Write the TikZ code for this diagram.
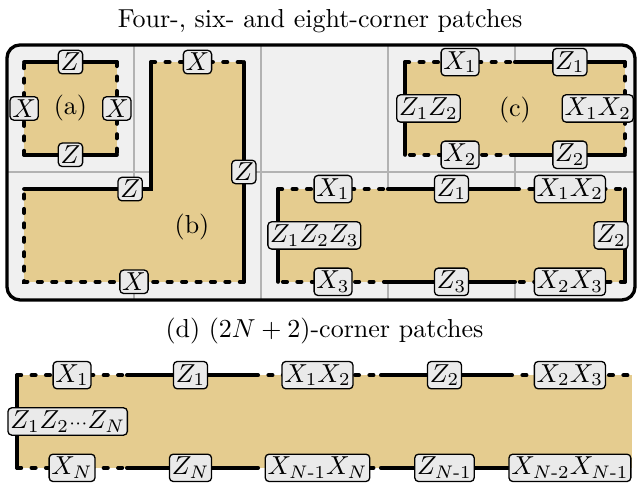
\documentclass[tikz,border=0pt]{standalone}
\usepackage{amsmath}
\usetikzlibrary{calc}

\definecolor{patchtan}{RGB}{229,204,143}
\definecolor{framegray}{RGB}{240,240,240}
\definecolor{gridgray}{RGB}{178,178,178}
\definecolor{labgray}{RGB}{234,234,234}

\tikzset{
  lab/.style = {draw, fill = labgray, rounded corners = 1.5pt, inner xsep = 0.9pt, inner ysep = 1.1pt, line width = 0.5pt},
  zedge/.style = {line width = 1.55pt, line cap = round},
  xedge/.style = {zedge, dash pattern = on 1.55pt off 4pt},
}

\begin{document}
\begin{tikzpicture}[x = 1.717cm, y = 1.717cm]
    \useasboundingbox (-0.055, 0.354) rectangle (4.961, -3.465);
    \def\ins{0.135}

      %frame with grid
      \fill[framegray, rounded corners = 5pt] (0, 0) rectangle (4.945, -2.008);
      \foreach \x in {1, 2, 3, 4}
        \draw[gridgray, line width = 0.58pt] (\x, 0) -- (\x, -2.008);
      \draw[gridgray, line width = 0.58pt] (0, -1) -- (4.945, -1);
      \draw[line width = 1.27pt, rounded corners = 5pt] (0, 0) rectangle (4.945, -2.008);

      %corners of the patches
      \path (\ins, -\ins) coordinate(a1) (1-\ins, -\ins) coordinate(a2)
            (1-\ins, -1+\ins) coordinate(a3) (\ins, -1+\ins) coordinate(a4);
      \path (\ins, -1-\ins) coordinate(b1) (1+\ins, -1-\ins) coordinate(b2)
            (1+\ins, -\ins) coordinate(b3) (2-\ins, -\ins) coordinate(b4)
            (2-\ins, -2+\ins) coordinate(b5) (\ins, -2+\ins) coordinate(b6);
      \path (3+\ins, -\ins) coordinate(c1) (4, -\ins) coordinate(c2)
            (5-\ins, -\ins) coordinate(c3) (5-\ins, -1+\ins) coordinate(c4)
            (4, -1+\ins) coordinate(c5) (3+\ins, -1+\ins) coordinate(c6);
      \path (2+\ins, -1-\ins) coordinate(e1) (3, -1-\ins) coordinate(e2)
            (4, -1-\ins) coordinate(e3) (5-\ins, -1-\ins) coordinate(e4)
            (5-\ins, -2+\ins) coordinate(e5) (4, -2+\ins) coordinate(e6)
            (3, -2+\ins) coordinate(e7) (2+\ins, -2+\ins) coordinate(e8);
      \foreach \x [count = \i] in {0.08, 0.945, 1.945, 2.945, 3.945, 4.92}
        \path (\x, -2.6) coordinate(dt\i) (\x, -3.33) coordinate(db\i);

      %patch fills
      \fill[patchtan] (a1) -- (a2) -- (a3) -- (a4) -- cycle;
      \fill[patchtan] (b1) -- (b2) -- (b3) -- (b4) -- (b5) -- (b6) -- cycle;
      \fill[patchtan] (c1) -- (c3) -- (c4) -- (c6) -- cycle;
      \fill[patchtan] (e1) -- (e4) -- (e5) -- (e8) -- cycle;
      \fill[patchtan] (dt1) rectangle (db6);

      %boundaries
      \draw[zedge] (a1) -- (a2);
      \draw[xedge] (a2) -- (a3);
      \draw[zedge] (a3) -- (a4);
      \draw[xedge] (a4) -- (a1);

      \draw[zedge] (b1) -- (b2) -- (b3);
      \draw[xedge] (b3) -- (b4);
      \draw[zedge] (b4) -- (b5);
      \draw[xedge] (b5) -- (b6) -- (b1);

      \draw[xedge] (c1) -- (c2);
      \draw[zedge] (c2) -- (c3);
      \draw[xedge] (c3) -- (c4);
      \draw[zedge] (c4) -- (c5);
      \draw[xedge] (c5) -- (c6);
      \draw[zedge] (c6) -- (c1);

      \draw[xedge] (e1) -- (e2);
      \draw[zedge] (e2) -- (e3);
      \draw[xedge] (e3) -- (e4);
      \draw[zedge] (e4) -- (e5);
      \draw[xedge] (e5) -- (e6);
      \draw[zedge] (e6) -- (e7);
      \draw[xedge] (e7) -- (e8);
      \draw[zedge] (e8) -- (e1);

      \draw[zedge] (dt1) -- (db1);
      \foreach \i/\j in {1/2, 3/4, 5/6}
        \draw[xedge] (dt\i) -- (dt\j) (db\i) -- (db\j);
      \foreach \i/\j in {2/3, 4/5}
        \draw[zedge] (dt\i) -- (dt\j) (db\i) -- (db\j);

      %operators on the edges
      \node (aZt) at ($(a1)!0.5!(a2)$) [lab] {$Z$};
      \node (aXr) at ($(a2)!0.5!(a3)$) [lab] {$X$};
      \node (aZb) at ($(a3)!0.5!(a4)$) [lab] {$Z$};
      \node (aXl) at ($(a4)!0.5!(a1)$) [lab] {$X$};

      \node (bZl) at (0.97, -1-\ins) [lab] {$Z$};
      \node (bXt) at ($(b3)!0.5!(b4)$) [lab] {$X$};
      \node (bZr) at ($(b4)!0.5!(b5)$) [lab] {$Z$};
      \node (bXb) at ($(b5)!0.5!(b6)$) [lab] {$X$};

      \node (cX1) at ($(c1)!0.5!(c2)$) [lab] {$X_1$};
      \node (cZ1) at ($(c2)!0.5!(c3)$) [lab] {$Z_1$};
      \node (cX12) at ($(c3)!0.5!(c4)$) [lab, anchor = east, xshift = 3.5pt] {$X_1X_2$};
      \node (cZ2) at ($(c4)!0.5!(c5)$) [lab] {$Z_2$};
      \node (cX2) at ($(c5)!0.5!(c6)$) [lab] {$X_2$};
      \node (cZ12) at ($(c6)!0.5!(c1)$) [lab, anchor = west, xshift = -3.5pt] {$Z_1Z_2$};

      \node (eX1) at ($(e1)!0.5!(e2)$) [lab] {$X_1$};
      \node (eZ1) at ($(e2)!0.5!(e3)$) [lab] {$Z_1$};
      \node (eX12) at ($(e3)!0.5!(e4)$) [lab] {$X_1X_2$};
      \node (eZ2) at ($(e4)!0.5!(e5)$) [lab, anchor = east, xshift = 1.5pt] {$Z_2$};
      \node (eX23) at ($(e5)!0.5!(e6)$) [lab] {$X_2X_3$};
      \node (eZ3) at ($(e6)!0.5!(e7)$) [lab] {$Z_3$};
      \node (eX3) at ($(e7)!0.5!(e8)$) [lab] {$X_3$};
      \node (eZ123) at ($(e8)!0.5!(e1)$) [lab, anchor = west, xshift = -4.2pt] {$Z_1Z_2Z_3$};

      \node (dX1) at ($(dt1)!0.5!(dt2)$) [lab] {$X_1$};
      \node (dZ1) at ($(dt2)!0.5!(dt3)$) [lab] {$Z_1$};
      \node (dX12) at ($(dt3)!0.5!(dt4)$) [lab] {$X_1X_2$};
      \node (dZ2) at ($(dt4)!0.5!(dt5)$) [lab] {$Z_2$};
      \node (dX23) at ($(dt5)!0.5!(dt6)$) [lab] {$X_2X_3$};
      \node (dXN) at ($(db1)!0.5!(db2)$) [lab] {$X_N$};
      \node (dZN) at ($(db2)!0.5!(db3)$) [lab] {$Z_N$};
      \node (dXNN) at ($(db3)!0.5!(db4)$) [lab] {$X_{N\text{-}1}X_N$};
      \node (dZN1) at ($(db4)!0.5!(db5)$) [lab] {$Z_{N\text{-}1}$};
      \node (dXN21) at ($(db5)!0.5!(db6)$) [lab] {$X_{N\text{-}2}X_{N\text{-}1}$};
      \node (dZall) at ($(dt1)!0.5!(db1)$) [lab, anchor = west, xshift = -3.8pt] {$Z_1Z_2{\scriptstyle\cdots}Z_N$};

      %patch names and titles
      \node (ta) at (0.5, -0.5) {(a)};
      \node (tb) at (1.457, -1.433) {(b)};
      \node (tc) at (4, -0.512) {(c)};
      \node (title) at (2.465, 0.19) {Four-, six- and eight-corner patches};
      \node (dtitle) at (2.5, -2.25) {(d) $(2N + 2)$-corner patches};

\end{tikzpicture}
\end{document}
